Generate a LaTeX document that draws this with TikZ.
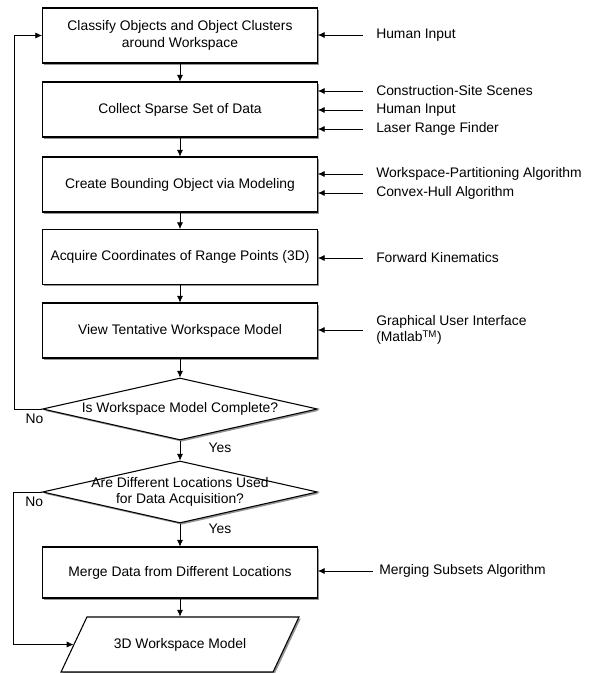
\documentclass[tikz,border=0pt]{standalone}
\usepackage{fontspec}
\setmainfont{Liberation Sans}
\usetikzlibrary{shapes.geometric,shadows,arrows.meta}
\begin{document}
\begin{tikzpicture}[x=0.75pt, y=-0.75pt, >={Latex[length=5pt,width=4.5pt]}, font=\fontsize{10.4}{12.6}\selectfont,
  boxshadow/.style={drop shadow={shadow xshift=1.3pt, shadow yshift=-1.3pt, fill=black!70, opacity=0.6}},
  stepbox/.style={draw, line width=0.8pt, fill=white, minimum width=206.25pt, minimum height=41.25pt, align=center, boxshadow},
  decision/.style={diamond, draw, line width=0.8pt, fill=white, minimum width=206.25pt, minimum height=46.5pt, inner sep=0pt, boxshadow},
  inp/.style={anchor=west, align=left, inner sep=3pt}]
\useasboundingbox (0,0) rectangle (590,673);
% process chain
\node[stepbox] (b1) at (180,35.5) {Classify Objects and Object Clusters\\around Workspace};
\node[stepbox] (b2) at (180,109.5) {Collect Sparse Set of Data};
\node[stepbox] (b3) at (180,184.5) {Create Bounding Object via Modeling};
\node[stepbox] (b4) at (180,257) {Acquire Coordinates of Range Points (3D)};
\node[stepbox] (b5) at (180,330.5) {View Tentative Workspace Model};
\node[decision] (d1) at (180,409) {};
\node at (d1) {Is Workspace Model Complete?};
\node[decision] (d2) at (180,492) {};
\node[align=center] at (d2) {Are Different Locations Used\\for Data Acquisition?};
\node[stepbox, minimum height=38.25pt] (b6) at (180,572.5) {Merge Data from Different Locations};
\node[trapezium, trapezium left angle=48, trapezium right angle=132, trapezium stretches=true, draw, line width=0.8pt, fill=white,
  minimum width=178.5pt, minimum height=41.25pt, boxshadow] (out) at (180,644.5) {3D Workspace Model};
\foreach \a/\b in {b1/b2, b2/b3, b3/b4, b4/b5, b5/d1, b6/out}
  \draw[->] (\a) -- (\b);
\draw[->] (d1) -- node[pos=0.38, right=18pt] {Yes} (d2);
\draw[->] (d2) -- node[pos=0.25, right=18pt] {Yes} (b6);
% feedback
\draw[->] (d1.west) -- node[pos=0.27, below] {No} ++(-28,0) |- (b1.west);
\draw[->] (d2.west) -- node[pos=0.27, below] {No} ++(-29,0) |- (out.west);
% inputs
\foreach \n/\y/\t/\b in {h1/35/Human Input/b1, c2/91/Construction-Site Scenes/b2, h2/110/Human Input/b2,
    l2/129/Laser Range Finder/b2, w3/174/Workspace-Partitioning Algorithm/b3, c3/193/Convex-Hull Algorithm/b3,
    f4/258/Forward Kinematics/b4, g5/330/{Graphical User Interface\\(Matlab\textsuperscript{TM})}/b5}
{
  \node[inp] (\n) at (372,\y) {\t};
  \draw[->, shorten <=6.75pt] (\n.west) -- (\b.east |- \n.west);
}
\node[inp] (m6) at (375,571) {Merging Subsets Algorithm};
\draw[->, shorten <=1.5pt] (m6.west) -- (b6.east |- m6.west);
\end{tikzpicture}
\end{document}
